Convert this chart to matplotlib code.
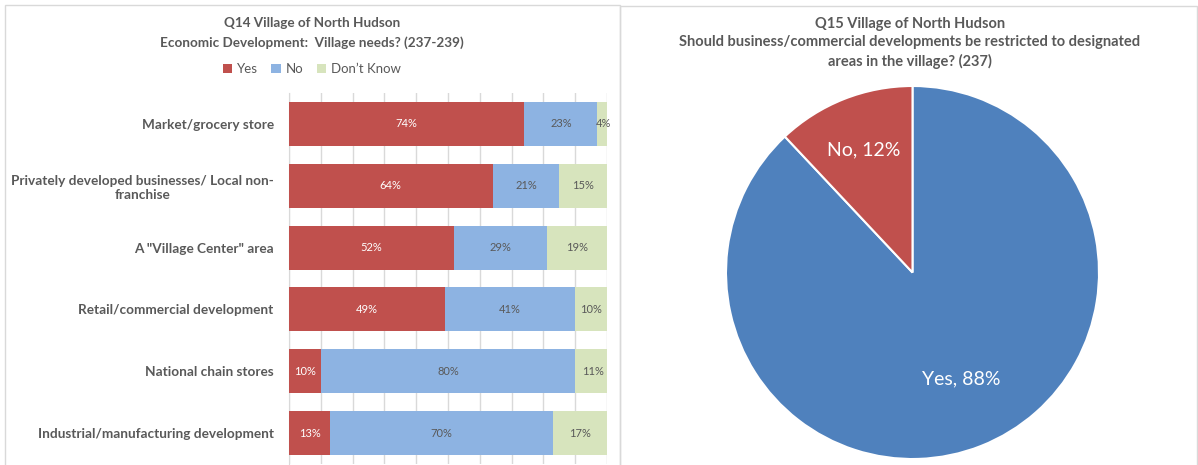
import matplotlib.pyplot as plt
from matplotlib.patches import Rectangle
import numpy as np

plt.rcParams['font.family'] = ['Lato', 'DejaVu Sans']

categories = ['Market/grocery store',
              'Privately developed businesses/ Local non-\nfranchise',
              'A "Village Center" area',
              'Retail/commercial development',
              'National chain stores',
              'Industrial/manufacturing development']
yes = [74, 64, 52, 49, 10, 13]
no = [23, 21, 29, 41, 80, 70]
dont_know = [4, 15, 19, 10, 11, 17]
series_names = ['Yes', 'No', 'Don\u2019t Know']

pie_labels = ['Yes', 'No']
pie_values = [88, 12]

grey = '#595959'
bar_colors = ['#C0504D', '#8DB3E2', '#D7E4BD']
text_colors = ['white', grey, grey]

W, H = 1198, 465
fig = plt.figure(figsize=(W / 100, H / 100), dpi=100)

def box(x0, y0, x1, y1):
    # pixel coordinates (top-left origin) -> figure fraction
    return [x0 / W, 1 - y1 / H, (x1 - x0) / W, (y1 - y0) / H]

# panel borders
fig.patches.append(Rectangle((5 / W, -0.1), (620 - 5) / W, 1 - 5 / H + 0.1,
                             transform=fig.transFigure, fill=False,
                             edgecolor='#d9d9d9', lw=1))
fig.patches.append(Rectangle((620 / W, -0.1), (1197 - 620) / W, 1 - 6 / H + 0.1,
                             transform=fig.transFigure, fill=False,
                             edgecolor='#d9d9d9', lw=1))

# ---- stacked bar chart ----
ax = fig.add_axes(box(289, 93, 607, 464))
y = np.arange(len(categories))
left = np.zeros(len(categories))
for vals, name, col, tcol in zip([yes, no, dont_know], series_names, bar_colors, text_colors):
    vals = np.array(vals)
    bars = ax.barh(y, vals, left=left, height=0.71, color=col, label=name, zorder=3)
    for b, v in zip(bars, vals):
        ax.text(b.get_x() + b.get_width() / 2, b.get_y() + b.get_height() / 2,
                f'{v}%', ha='center', va='center', fontsize=8, color=tcol, zorder=4)
    left += vals

ax.set_xlim(0, 100)
ax.set_ylim(len(categories) - 0.5, -0.5)
ax.set_xticks(np.arange(0, 101, 10))
ax.set_xticklabels([])
ax.tick_params(length=0)
ax.set_yticks(y)
ax.set_yticklabels(categories, fontsize=9.8, fontweight='bold', color=grey,
                   ha='right', multialignment='center')
ax.tick_params(axis='y', pad=11)
ax.grid(axis='x', color='#d9d9d9', lw=1, zorder=0)
for s in ['top', 'right', 'bottom']:
    ax.spines[s].set_visible(False)
ax.spines['left'].set_color('#d9d9d9')

fig.text(312 / W, 1 - 33 / H, 'Q14 Village of North Hudson\nEconomic Development:  Village needs? (237-239)',
         ha='center', va='center', fontsize=9.7, fontweight='bold', color=grey,
         linespacing=1.6)
handles, labels = ax.get_legend_handles_labels()
fig.legend(handles, labels, loc='center', bbox_to_anchor=(312 / W, 1 - 69 / H),
           ncol=3, frameon=False, fontsize=9.5, labelcolor=grey,
           handlelength=0.7, handleheight=0.7, handletextpad=0.4, columnspacing=1.0)

# ---- pie chart ----
pax = fig.add_axes(box(726, 86, 1099, 459))
wedges, _ = pax.pie(pie_values, colors=['#4F81BD', '#C0504D'], startangle=90,
                    counterclock=False,
                    wedgeprops=dict(edgecolor='white', linewidth=1.5))
pax.set_xlim(-1, 1)
pax.set_ylim(-1, 1)
pax.set_aspect('equal')
pax.text(0.26, -0.57, f'{pie_labels[0]}, {pie_values[0]}%', ha='center', va='center',
         fontsize=14, color='white')
pax.text(-0.26, 0.66, f'{pie_labels[1]}, {pie_values[1]}%', ha='center', va='center',
         fontsize=14, color='white')

fig.text(910 / W, 1 - 43 / H,
         'Q15 Village of North Hudson\nShould business/commercial developments be restricted to designated\nareas in the village? (237)',
         ha='center', va='center', fontsize=10.5, fontweight='bold', color=grey,
         linespacing=1.4)

fig.savefig('out.png', dpi=100)
